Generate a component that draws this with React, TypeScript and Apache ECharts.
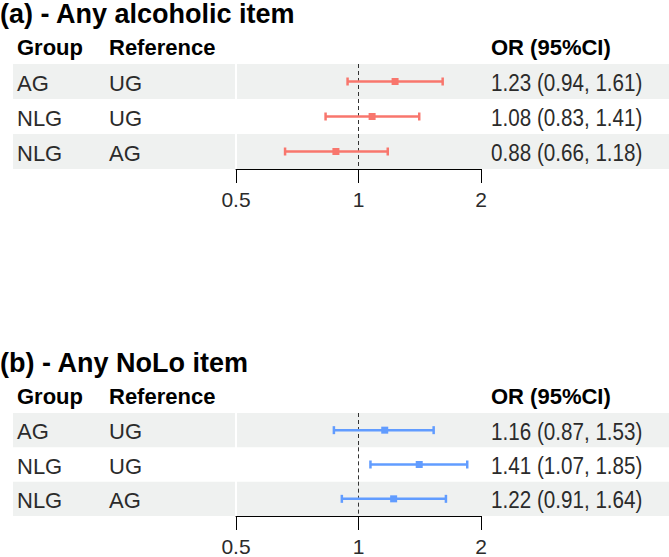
import React, { useEffect, useRef } from "react";
import * as echarts from "echarts";

const panelTitles = ["(a) - Any alcoholic item", "(b) - Any NoLo item"];
const headers = ["Group", "Reference", "OR (95%CI)"];
const groups = ["AG", "NLG", "NLG"];
const references = ["UG", "UG", "AG"];
const orA = [1.23, 1.08, 0.88];
const lowA = [0.94, 0.83, 0.66];
const highA = [1.61, 1.41, 1.18];
const orB = [1.16, 1.41, 1.22];
const lowB = [0.87, 1.07, 0.91];
const highB = [1.53, 1.85, 1.64];
const xTicks = [0.5, 1, 2];
const refValue = 1;
const panelColors = ["#F8766D", "#619CFF"];

const FONT = "'Liberation Sans', Arial, sans-serif";
const PANEL_OFFSET = 349;
const GRID_TOP = 64;
const GRID_H = 105;
const PLOT_LEFT = 236;
const PLOT_W = 245;
const COL_GROUP = 17;
const COL_REF = 109;
const COL_OR = 491;
const BAND = "#eff1f0";
const TEXT = "#2b2b2b";

const fmt = (v: number) => v.toFixed(2);

function buildOption() {
  const panels = [
    { or: orA, low: lowA, high: highA },
    { or: orB, low: lowB, high: highB },
  ];
  const nRows = groups.length;
  const grid: any[] = [];
  const xAxis: any[] = [];
  const yAxis: any[] = [];
  const series: any[] = [];
  const graphic: any[] = [];

  panels.forEach((p, pi) => {
    const off = pi * PANEL_OFFSET;
    grid.push({ left: PLOT_LEFT, width: PLOT_W, top: GRID_TOP + off, height: GRID_H });
    xAxis.push({
      type: "log",
      logBase: 2,
      min: xTicks[0],
      max: xTicks[xTicks.length - 1],
      gridIndex: pi,
      axisLine: { show: true, onZero: false, lineStyle: { color: "#000", width: 1 } },
      axisTick: { show: true, length: 14, inside: false, lineStyle: { color: "#000", width: 1 } },
      axisLabel: {
        show: true,
        fontSize: 21,
        fontFamily: FONT,
        color: TEXT,
        margin: 20,
        formatter: (v: number) => String(Math.round(v * 100) / 100),
      },
      splitLine: { show: false },
      minorTick: { show: false },
    });
    yAxis.push({
      type: "value",
      min: -0.5,
      max: nRows - 0.5,
      inverse: true,
      gridIndex: pi,
      show: false,
      splitLine: { show: false },
    });

    // table rows: bands + text + reference line
    series.push({
      type: "custom",
      xAxisIndex: pi,
      yAxisIndex: pi,
      z: 1,
      clip: false,
      silent: true,
      data: groups.map((_, i) => [refValue, i]),
      encode: { x: 0, y: 1 },
      renderItem: (params: any, api: any) => {
        const i = api.value(1);
        const c = api.coord([refValue, i]);
        const h = api.size([0, 1])[1];
        const W = api.getWidth();
        const y0 = c[1] - h / 2;
        const children: any[] = [];
        if (i % 2 === 0) {
          children.push({
            type: "rect",
            shape: { x: 13, y: y0, width: PLOT_LEFT - 1 - 13, height: h },
            style: { fill: BAND },
          });
          children.push({
            type: "rect",
            shape: { x: PLOT_LEFT + 1, y: y0, width: W - PLOT_LEFT - 1, height: h },
            style: { fill: BAND },
          });
        }
        const txt = (x: number, t: string, size: number, sx: number) => ({
          type: "text",
          x,
          y: c[1] + 1.5,
          scaleX: sx,
          style: {
            text: t,
            fontSize: size,
            fontFamily: FONT,
            fill: TEXT,
            align: "left",
            verticalAlign: "middle",
          },
        });
        children.push(txt(COL_GROUP, groups[i], 22, 1));
        children.push(txt(COL_REF, references[i], 22, 1));
        children.push(
          txt(COL_OR, `${fmt(p.or[i])} (${fmt(p.low[i])}, ${fmt(p.high[i])})`, 24, 0.86)
        );
        // dashed reference segment for this row
        children.push({
          type: "line",
          z2: 5,
          shape: { x1: c[0], y1: y0, x2: c[0], y2: y0 + h },
          style: { stroke: "#333", lineWidth: 1, lineDash: [4, 3] },
        });
        return { type: "group", children };
      },
    });

    // error bars
    const color = panelColors[pi];
    series.push({
      type: "custom",
      xAxisIndex: pi,
      yAxisIndex: pi,
      z: 3,
      clip: false,
      silent: true,
      data: groups.map((_, i) => [p.low[i], p.high[i], p.or[i], i]),
      encode: { x: [0, 1, 2], y: 3 },
      renderItem: (params: any, api: any) => {
        const y = api.value(3);
        const pl = api.coord([api.value(0), y]);
        const ph = api.coord([api.value(1), y]);
        const pm = api.coord([api.value(2), y]);
        const cap = 4;
        const s = 7;
        const ls = { stroke: color, lineWidth: 2.5 };
        return {
          type: "group",
          children: [
            { type: "line", shape: { x1: pl[0], y1: pl[1], x2: ph[0], y2: ph[1] }, style: ls },
            { type: "line", shape: { x1: pl[0], y1: pl[1] - cap, x2: pl[0], y2: pl[1] + cap }, style: ls },
            { type: "line", shape: { x1: ph[0], y1: ph[1] - cap, x2: ph[0], y2: ph[1] + cap }, style: ls },
            { type: "rect", shape: { x: pm[0] - s / 2, y: pm[1] - s / 2, width: s, height: s }, style: { fill: color } },
          ],
        };
      },
    });

    graphic.push({
      type: "text",
      x: 0,
      y: 14 + off,
      style: {
        text: panelTitles[pi],
        fontSize: 27,
        fontWeight: "bold",
        fontFamily: FONT,
        fill: "#000",
        verticalAlign: "middle",
      },
    });
    [COL_GROUP, COL_REF, COL_OR].forEach((x, hi) => {
      graphic.push({
        type: "text",
        x,
        y: 47 + off,
        style: {
          text: headers[hi],
          fontSize: 22,
          fontWeight: "bold",
          fontFamily: FONT,
          fill: "#000",
          verticalAlign: "middle",
        },
      });
    });
  });

  return {
    animation: false,
    backgroundColor: "#fff",
    grid,
    xAxis,
    yAxis,
    series,
    graphic,
  };
}

export default function App() {
  const ref = useRef<HTMLDivElement>(null);
  useEffect(() => {
    if (!ref.current) return;
    const chart = echarts.init(ref.current, null, { renderer: "svg" });
    chart.setOption(buildOption() as any);
    return () => chart.dispose();
  }, []);
  return (
    <div
      ref={ref}
      style={{ position: "absolute", left: 0, top: 0, width: 669, height: 557 }}
    />
  );
}
